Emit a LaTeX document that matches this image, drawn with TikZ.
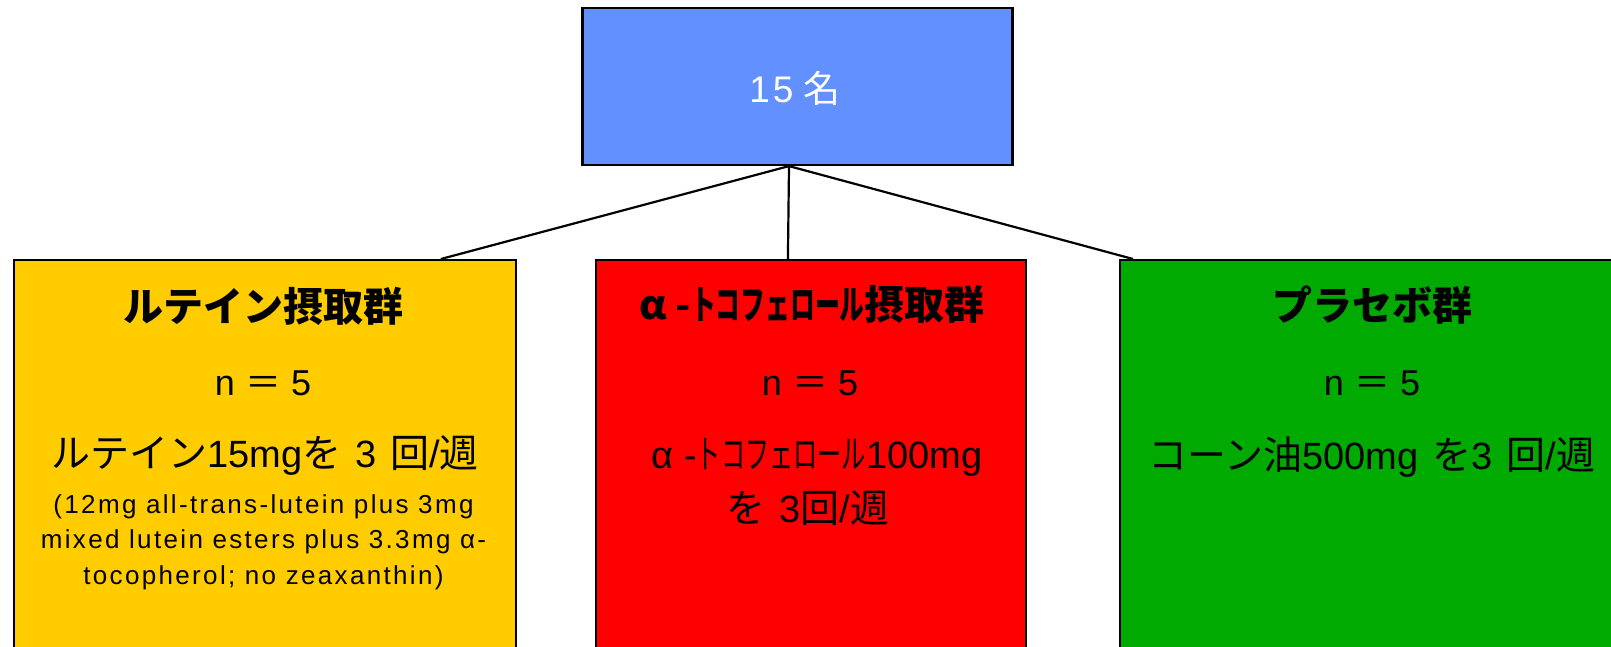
\documentclass[tikz,border=0pt]{standalone}
\usepackage{fontspec}
\setmainfont{Liberation Sans}
\newfontfamily\jp{Noto Sans CJK JP}
\newfontfamily\smallfont{Liberation Sans}[LetterSpace=9]
\newcommand{\narrowkana}[1]{\scalebox{0.62}[1]{#1}}
\newcommand{\J}[1]{{\jp\fontsize{39}{50}\selectfont #1}}
\newcommand{\gap}{\hspace{14pt}}
\definecolor{topblue}{RGB}{98,144,255}
\definecolor{lutein}{RGB}{255,204,0}
\definecolor{toco}{RGB}{255,0,0}
\definecolor{placebo}{RGB}{0,170,0}
\tikzset{
  box/.style={draw=black, line width=2.2pt, rectangle, inner sep=0pt},
  conn/.style={draw=black, line width=2.2pt},
  ttl/.style={font=\jp\bfseries\fontsize{40}{44}\selectfont, inner sep=0pt},
  nn/.style={font=\fontsize{36}{40}\selectfont, inner sep=0pt},
  dose/.style={font=\fontsize{38}{50}\selectfont, inner sep=0pt, align=center},
  small/.style={font=\smallfont\fontsize{26}{35.5}\selectfont, inner sep=0pt, align=center}
}
\begin{document}
\begin{tikzpicture}[x=1pt,y=-1pt]
\useasboundingbox (0,0) rectangle (1611,647);
\clip (0,0) rectangle (1611,647);
% boxes
\node[box, fill=topblue, minimum width=430pt, minimum height=157pt] (top) at (797.5,86.5) {};
\node[box, fill=lutein, anchor=north, minimum width=502pt, minimum height=500pt] (L) at (265,259) {};
\node[box, fill=toco, anchor=north, minimum width=430pt, minimum height=500pt] (M) at (811,259) {};
\node[box, fill=placebo, anchor=north west, minimum width=510pt, minimum height=500pt] (R) at (1119,259) {};
% connectors
\coordinate (hub) at ([xshift=-8.5pt]top.south);
\coordinate (Lend) at ([xshift=428pt]L.north west);
\coordinate (Mend) at ([xshift=193pt]M.north west);
\coordinate (Rend) at ([xshift=14pt]R.north west);
\draw[conn] (hub) -- (Lend);
\draw[conn] (hub) -- (Mend);
\draw[conn] (hub) -- (Rend);
% top text
\node[inner sep=0pt, text=white, font=\fontsize{37}{44}\selectfont] (topt) at (795,88) {1\hspace{3pt}5 {\jp 名}};
% left texts
\node[ttl] (Lt) at (263,306) {ルテイン摂取群};
\node[nn] (Ln) at (263,383) {n {\jp ＝} 5};
\node[dose] (Ld) at (265,456) {\J{ルテイン}15mg\J{を}\gap 3\gap\J{回}/\J{週}};
\node[small] (Ls) at (263.5,542) {(12mg all-trans-lutein plus 3mg\\mixed lutein esters plus 3.3mg α-\\tocopherol; no zeaxanthin)};
% middle texts
\node[ttl] (Mt) at (812,304) {α -\narrowkana{トコフェロール}摂取群};
\node[nn] (Mn) at (810,383) {n {\jp ＝} 5};
\node[dose] (Md) at (817,457) {α -\J{\narrowkana{トコフェロール}}100mg};
\node[dose] (Md2) at (808,508) {\J{を}\gap 3\J{回}/\J{週}};
% right texts
\node[ttl] (Rt) at (1372,305) {プラセボ群};
\node[nn] (Rn) at (1372,383) {n {\jp ＝} 5};
\node[dose] (Rd) at (1372,457) {\J{コーン油}500mg\gap\J{を}3\gap\J{回}/\J{週}};
\end{tikzpicture}
\end{document}
